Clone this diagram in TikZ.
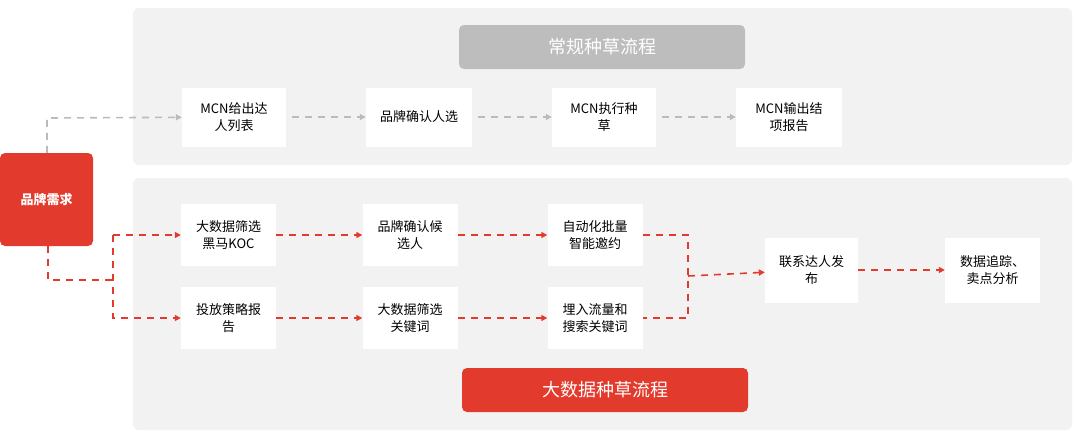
\documentclass[tikz,border=0pt]{standalone}
\usepackage{fontspec}
\setmainfont{Noto Sans CJK SC}
\usetikzlibrary{arrows.meta}
\definecolor{panelgray}{HTML}{F2F2F2}
\definecolor{titlegray}{HTML}{BDBDBD}
\definecolor{brandred}{HTML}{E23A2C}
\definecolor{linegray}{HTML}{BBBBBB}
\tikzset{
  panel/.style={fill=panelgray, rounded corners=6pt},
  stepbox/.style={fill=white, minimum width=95pt, minimum height=62pt, align=center, font=\fontsize{13}{17}\selectfont},
  titlebox/.style={rounded corners=5pt, minimum width=286pt, minimum height=44pt, text=white, font=\fontsize{18}{22}\selectfont},
  grayflow/.style={linegray, line width=1.6pt, dash pattern=on 7pt off 6pt, -{Triangle[length=6pt,width=6pt]}},
  redflow/.style={brandred, line width=1.6pt, dash pattern=on 7pt off 6pt, -{Triangle[length=6pt,width=6pt]}},
  redline/.style={brandred, line width=1.6pt, dash pattern=on 7pt off 6pt}
}
\begin{document}
\begin{tikzpicture}[x=1pt, y=-1pt]
            \useasboundingbox (0,0) rectangle (1080,437);
            % Panels
            \fill[panel] (133,8) rectangle (1072,165);
            \fill[panel] (133,178) rectangle (1072,430);
            \node[titlebox, fill=titlegray] (ttop) at (602,47) {常规种草流程};
            \node[titlebox, fill=brandred] (tbot) at (605,390) {大数据种草流程};

            % Brand need
            \node[fill=brandred, rounded corners=5pt, minimum width=93pt, minimum height=93pt, text=white, font=\fontsize{13}{16}\selectfont\bfseries] (need) at (46.5,199.5) {品牌需求};

            % Regular flow
            \node[stepbox, minimum width=104pt, minimum height=59pt] (m1) at (234,117) {MCN给出达\\人列表};
            \node[stepbox, minimum width=106pt, minimum height=59pt] (m2) at (419,117) {品牌确认人选};
            \node[stepbox, minimum width=104pt, minimum height=59pt] (m3) at (604,117) {MCN执行种\\草};
            \node[stepbox, minimum width=106pt, minimum height=59pt] (m4) at (789,117) {MCN输出结\\项报告};
            \coordinate (gup) at (47,118);
            \draw[grayflow] (need.north -| gup) -- (gup) -- (m1);
            \draw[grayflow] (m2.west -| m1.east) ++(6,0) -- (m2);
            \draw[grayflow] (m3.west -| m2.east) ++(6,0) -- (m3);
            \draw[grayflow] (m4.west -| m3.east) ++(6,0) -- (m4);

            % Big data flow
            \node[stepbox] (a1) at (228.5,235) {大数据筛选\\黑马KOC};
            \node[stepbox] (a2) at (410,235) {品牌确认候\\选人};
            \node[stepbox] (a3) at (595,235) {自动化批量\\智能邀约};
            \node[stepbox] (b1) at (228.5,318) {投放策略报\\告};
            \node[stepbox] (b2) at (410,318) {大数据筛选\\关键词};
            \node[stepbox] (b3) at (595,318) {埋入流量和\\搜索关键词};
            \node[stepbox, minimum width=93pt, minimum height=65pt] (c1) at (811.5,270) {联系达人发\\布};
            \node[stepbox, minimum width=95pt, minimum height=65pt] (c2) at (992.5,270) {数据追踪、\\卖点分析};

            \coordinate (lsplit) at (113,280);
            \coordinate (rjoin) at (688,276);
            \draw[redline] (48,246) -- (48,280) -- (lsplit);
            \draw[redflow] (lsplit |- a1) -- (a1);
            \draw[redflow] (lsplit |- a1) -- (lsplit |- b1) -- (b1);
            \draw[redflow] (a1) -- (a2);
            \draw[redflow] (a2) -- (a3);
            \draw[redflow] (b1) -- (b2);
            \draw[redflow] (b2) -- (b3);
            \draw[redline] (a3.east) -- (rjoin |- a3) -- (rjoin |- b3) -- (b3.east);
            \draw[redflow] (rjoin) -- (c1);
            \draw[redflow] (c1) -- (c2);
\end{tikzpicture}
\end{document}
